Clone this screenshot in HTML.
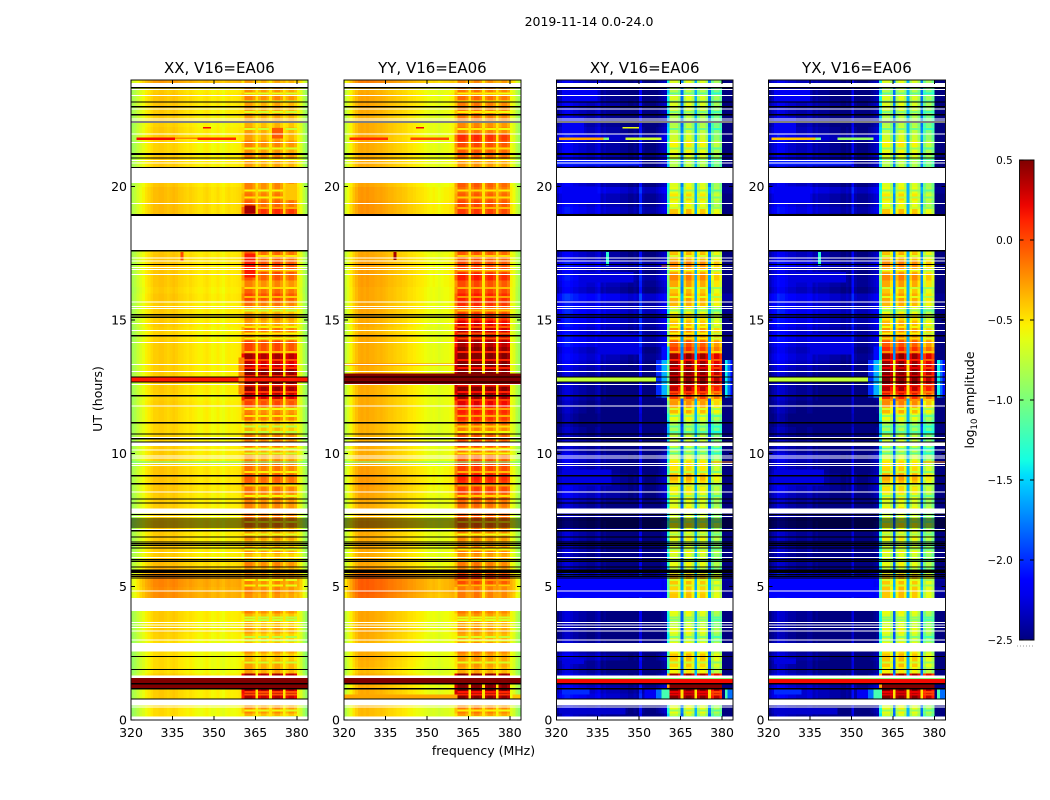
<!DOCTYPE html>
<html lang="en">
<head>
<meta charset="utf-8">
<title>2019-11-14 0.0-24.0</title>
<style>
html,body{margin:0;padding:0;background:#fff;width:1050px;height:800px;overflow:hidden}
svg{display:block}
text{font-family:"DejaVu Sans","Liberation Sans",sans-serif;fill:#000}
</style>
</head>
<body>
<svg id="figure" xmlns="http://www.w3.org/2000/svg" width="1050" height="800" viewBox="0 0 1050 800">
  <defs>
    <linearGradient id="jetGradient" x1="0" y1="1" x2="0" y2="0"></linearGradient>
  </defs>
  <text x="589" y="26" font-size="12.5" text-anchor="middle">2019-11-14 0.0-24.0</text>
  <text x="483.5" y="755" font-size="12.5" text-anchor="middle">frequency (MHz)</text>
  <text x="102" y="399" font-size="12.5" text-anchor="middle" transform="rotate(-90 102 399)">UT (hours)</text>
  <text x="974" y="400" font-size="12.5" text-anchor="middle" transform="rotate(-90 974 400)">log<tspan font-size="8.5" dy="3">10</tspan><tspan dy="-3"> amplitude</tspan></text>
  <g id="panels"></g>
  <g id="colorbar"></g>
</svg>
<script>
// ---------- axis categories and tick labels ----------
const panelTitles = ["XX, V16=EA06", "YY, V16=EA06", "XY, V16=EA06", "YX, V16=EA06"];
const freqTicks = [320, 335, 350, 365, 380];
const timeTicks = [0, 5, 10, 15, 20];
const colorTicks = [-2.5, -2.0, -1.5, -1.0, -0.5, 0.0, 0.5];
const colorTickLabels = ["\u22122.5", "\u22122.0", "\u22121.5", "\u22121.0", "\u22120.5", "0.0", "0.5"];

// zone of each 1 MHz channel from 320 MHz: 0 continuum, 1-4 sub-band, 5 gap, 6 narrow gap, 8 band edge
const channelZone = [
0,0,0,0,0,0,0,0,0,0, 0,0,0,0,0,0,0,0,0,0,
0,0,0,0,0,0,0,0,0,0, 0,0,0,0,0,0,0,0,0,0,
8,1,1,1,1,5,2,2,2,2, 6,3,3,3,3,5,4,4,4,4,
0,0,0,0];
// 1 on the outer channels of each sub-band, 0 on the inner ones
const bandRim = [
0,0,0,0,0,0,0,0,0,0, 0,0,0,0,0,0,0,0,0,0,
0,0,0,0,0,0,0,0,0,0, 0,0,0,0,0,0,0,0,0,0,
0,0,0,0,1,0,1,0,0,1, 0,1,0,0,1,0,1,0,0,1,
0,0,0,0];

// spectral shape of the continuum, log10 offset per channel
const profileXX = [
-.35,-.3,-.22,-.15,-.1,-.04,0,.04,.08,.08, .1,.1,.08,.06,.08,.1,.08,.05,.04,.02,
0,.02,0,-.02,-.04,-.04,-.02,0,-.03,-.06, -.05,-.02,-.06,-.08,-.04,-.02,-.04,-.03,-.02,0,
0,0,0,0,0,0,0,0,0,0, 0,0,0,0,0,0,0,0,0,0, -.05,-.15,-.3,-.4];
const profileYY = [
-.25,-.15,-.05,.05,.12,.18,.2,.18,.2,.18, .18,.16,.15,.16,.14,.12,.1,.1,.08,.06,
.06,.04,.03,0,0,-.02,-.04,-.05,-.06,-.08, -.1,-.12,-.1,-.12,-.15,-.12,-.1,-.1,-.08,-.06,
0,0,0,0,0,0,0,0,0,0, 0,0,0,0,0,0,0,0,0,0, -.08,-.15,-.3,-.38];
const profileXY = [
0,.1,.2,.25,.25,.2,.15,.15,.1,.1, .1,.05,.05,.05,.1,.15,0,.05,0,0,
0,0,0,-.05,-.05,-.05,-.1,-.1,-.05,-.1, .3,-.05,-.1,-.1,-.1,-.1,-.05,0,.05,.1,
0,0,0,0,0,0,0,0,0,0, 0,0,0,0,0,0,0,0,0,0, -.2,-.2,-.2,-.2];
const profileYX = [
0,.1,.15,.25,.2,.2,.15,.1,.1,.1, .05,.05,.05,.05,.1,.1,0,.05,0,0,
0,0,-.05,-.05,-.05,-.05,-.1,-.1,-.05,-.1, .25,-.05,-.1,-.1,-.1,-.1,-.05,0,.05,.1,
0,0,0,0,0,0,0,0,0,0, 0,0,0,0,0,0,0,0,0,0, -.2,-.2,-.2,-.2];

// continuum level per quarter hour, 0h upward (four values per hour)
const contXX = [
-.55,-.55,-.55,-.5, -.5,-.5,-.5,-.55, -.55,-.55,-.55,-.55, -.52,-.5,-.52,-.5,
-.5,-.5,-.3,-.3, -.28,-.28,-.42,-.45, -.5,-.5,-.5,-.5, -.5,-.5,-.52,-.5,
-.5,-.5,-.48,-.48, -.48,-.48,-.5,-.5, -.5,-.5,-.52,-.52, -.52,-.52,-.52,-.5,
-.52,-.5,-.5,-.5, -.5,-.5,-.5,-.5, -.5,-.52,-.52,-.5, -.5,-.5,-.5,-.48,
-.5,-.48,-.48,-.48, -.48,-.48,-.5,-.5, -.5,-.5,-.45,-.45, -.45,-.45,-.45,-.45,
-.48,-.5,-.5,-.5, -.5,-.52,-.52,-.5, -.5,-.52,-.5,-.5, -.48,-.48,-.5,-.35];
const contYY = [
-.55,-.55,-.55,-.5, -.5,-.5,-.5,-.55, -.52,-.5,-.5,-.52, -.5,-.48,-.5,-.48,
-.48,-.48,-.28,-.25, -.25,-.25,-.45,-.48, -.5,-.5,-.5,-.5, -.5,-.48,-.52,-.5,
-.5,-.48,-.46,-.45, -.45,-.46,-.48,-.5, -.5,-.5,-.52,-.52, -.52,-.5,-.5,-.5,
-.5,-.5,-.5,-.5, -.5,-.5,-.5,-.5, -.5,-.5,-.52,-.5, -.5,-.48,-.48,-.48,
-.48,-.46,-.46,-.46, -.46,-.48,-.5,-.5, -.5,-.5,-.42,-.42, -.42,-.42,-.44,-.44,
-.48,-.5,-.5,-.5, -.5,-.5,-.5,-.5, -.5,-.5,-.52,-.5, -.48,-.48,-.5,-.35];
const contXY = [
-2.5,-2.4,-2.5,-2.3, -2.35,-2.4,-2.4,-2.5, -2.5,-2.4,-2.5,-2.5, -2.55,-2.55,-2.55,-2.5,
-2.5,-2.5,-2.25,-2.25, -2.25,-2.2,-2.5,-2.5, -2.55,-2.5,-2.55,-2.5, -2.5,-2.5,-2.55,-2.5,
-2.5,-2.4,-2.4,-2.4, -2.4,-2.45,-2.45,-2.4, -2.5,-2.5,-2.55,-2.55, -2.6,-2.6,-2.55,-2.55,
-2.5,-2.5,-2.5,-2.5, -2.45,-2.4,-2.35,-2.4, -2.3,-2.3,-2.35,-2.3, -2.3,-2.25,-2.3,-2.2,
-2.4,-2.35,-2.3,-2.4, -2.3,-2.4,-2.4,-2.4, -2.4,-2.4,-2.4,-2.4, -2.3,-2.35,-2.35,-2.25,
-2.4,-2.4,-2.3,-2.4, -2.4,-2.4,-2.4,-2.3, -2.4,-2.45,-2.45,-2.45, -2.4,-2.45,-2.45,-2.4];
const contYX = [
-2.5,-2.45,-2.5,-2.35, -2.35,-2.4,-2.4,-2.5, -2.5,-2.45,-2.5,-2.5, -2.55,-2.55,-2.55,-2.5,
-2.5,-2.5,-2.25,-2.2, -2.25,-2.2,-2.5,-2.5, -2.55,-2.5,-2.55,-2.5, -2.5,-2.5,-2.55,-2.5,
-2.5,-2.45,-2.4,-2.4, -2.4,-2.45,-2.45,-2.4, -2.5,-2.5,-2.55,-2.55, -2.6,-2.6,-2.55,-2.55,
-2.5,-2.5,-2.5,-2.5, -2.45,-2.4,-2.35,-2.4, -2.35,-2.3,-2.35,-2.3, -2.3,-2.25,-2.3,-2.25,
-2.4,-2.35,-2.35,-2.4, -2.3,-2.4,-2.4,-2.4, -2.4,-2.4,-2.4,-2.4, -2.3,-2.35,-2.35,-2.25,
-2.4,-2.4,-2.3,-2.4, -2.4,-2.4,-2.4,-2.3, -2.4,-2.45,-2.45,-2.45, -2.4,-2.45,-2.45,-2.4];

// sub-band (361-380 MHz) level per quarter hour, 0h upward
const bandXX = [
-.25,-.12,-.2,.45, .5,.5,.5,-.2, -.2,-.28,-.15,-.3, -.3,-.2,-.28,-.25,
-.1,-.25,-.15,-.1, -.1,-.1,-.2,-.1, -.3,-.15,-.3,-.15, -.2,-.05,-.05,-.1,
-.1,-.1,-.05,0, .02,-.05,-.05,-.15, -.2,-.05,-.1,-.25, -.3,-.05,-.1,.1,
.4,.55,.6,.6, .6,.4,.5,.1, .1,-.1,-.05,-.2, -.15,-.25,-.05,.1,
0,-.1,.05,.1, .1,0,0,0, 0,0,.2,.15, .2,0,-.05,-.1,
-.1,-.1,-.2,-.2, -.1,-.15,-.1,-.2, -.2,-.25,-.2,-.2, -.2,-.1,-.15,-.2];
const bandYY = [
-.2,-.1,-.2,.55, .6,.6,.55,-.25, -.2,-.2,-.1,-.2, -.25,-.2,-.25,-.2,
-.1,-.25,-.1,-.1, .05,.2,-.15,-.1, -.2,-.1,-.2,-.15, -.1,0,0,-.1,
-.05,0,.1,.15, .2,.1,.1,0, -.1,.05,0,-.1, 0,.15,.2,.3,
.5,.6,.6,.6, .6,.6,.6,.55, .45,.45,.4,.3, .15,.05,.15,.2,
.1,.05,.2,.1, .05,0,0,0, 0,0,.1,.1, .1,.05,0,-.05,
0,-.05,-.2,-.2, -.05,0,.05,.15, -.1,-.15,-.1,-.1, -.1,-.05,-.1,-.15];
const bandXY = [
-.8,-.65,-.7,.5, .5,.4,.4,-.6, -.5,-.45,-.6,-.65, -.75,-.65,-.8,-.7,
-.65,-.75,-.45,-.5, -.45,-.4,-.8,-.65, -.75,-.6,-.8,-.6, -.7,-.6,-.75,-.6,
-.7,-.65,-.6,-.5, -.4,-.55,-.55,-.7, -.85,-.75,-.8,-.9, -.85,-.65,-.4,-.3,
0,.3,.45,.5, .5,.4,.4,0, -.1,-.25,-.3,-.45, -.55,-.65,-.4,-.35,
-.45,-.35,-.25,-.35, -.25,-.4,-.45,-.8, -.8,-.8,-.45,-.35, -.45,-.65,-.55,-.65,
-.7,-.7,-.85,-.85, -.7,-.65,-.6,-.75, -.8,-.85,-.85,-.75, -.7,-.7,-.85,-.7];
const bandYX = [
-.75,-.65,-.7,.5, .5,.4,.4,-.6, -.45,-.45,-.55,-.65, -.75,-.65,-.75,-.7,
-.65,-.75,-.45,-.45, -.45,-.4,-.8,-.65, -.75,-.6,-.8,-.6, -.7,-.6,-.75,-.6,
-.7,-.65,-.55,-.45, -.35,-.5,-.55,-.7, -.85,-.75,-.8,-.9, -.85,-.65,-.4,-.25,
.05,.3,.45,.5, .5,.4,.4,.05, -.1,-.2,-.3,-.4, -.55,-.65,-.4,-.35,
-.45,-.35,-.25,-.35, -.25,-.4,-.45,-.8, -.8,-.8,-.45,-.35, -.45,-.65,-.55,-.65,
-.7,-.7,-.85,-.85, -.7,-.65,-.6,-.75, -.8,-.85,-.85,-.75, -.7,-.7,-.85,-.7];

// per-panel sub-band offsets, gap offset above continuum, narrow-gap level, edge and rim drops
const bandOffsetsXX = [-.07, -.12, -.08, -.14];
const bandOffsetsYY = [-.05, -.03, -.07, -.1];
const bandOffsetsXY = [.05, .1, .05, -.15];
const bandOffsetsYX = [.05, .1, .05, -.15];
const gapOffsets = [0, 0, .65, .65];
const narrowGapLevels = [-.5, -.5, -1.6, -1.6];
const edgeDrops = [-.3, -.3, -.7, -.7];
const rimDrops = [-.1, -.1, -.2, -.2];
const stripeDrops = [-.38, -.38, -.32, -.32];

// hours where the sub-bands show a paler horizontal stripe
const bandStripeHours = [
.12,.35,.95,1.05,2.15,2.98,3.12,3.75,3.85,5.05,5.25,6,6.4,6.95,7.45,8.4,8.8,9.3,10,10.17,10.8,11,11.4,11.67,12,12.3,12.55,12.9,13.2,13.5,
13.8,14.3,14.5,14.73,15.36,15.86,16.2,16.86,17.4,19.2,19.6,19.86,21,21.43,22.17,22.8,23.2,23.5];

// localised features: [startHour, endHour, startMHz, endMHz, log10 amplitude]
const featuresXX = [
[1.17,1.58,320,384,.5],[12.67,12.86,320,384,.15],[21.75,21.85,322,336,.2],[21.75,21.85,344,358,.1],
[21.78,21.85,336,344,-.2],[22.19,22.24,346,349,.2],[9.66,9.7,320,384,-1.1],[17.2,17.55,338,339,0],
[16.6,17.5,361,365,.15],[19,19.3,361,365,.4],[19.5,20.1,376,380,-.4],[21.8,22.2,371,375,-.05],
[12.2,13.6,359,361,-.2]];
const featuresYY = [
[1.38,1.6,320,384,.5],[12.6,13,320,384,.5],[21.75,21.85,322,336,.1],[21.75,21.85,344,358,0],
[22.19,22.24,346,349,.2],[9.66,9.7,320,384,-1.1],[17.25,17.55,338,339,.4],
[.8,.95,320,361,-.3],[13.3,13.36,320,360,-.2],[.8,.95,381,384,-.4]];
const featuresXY = [
[1.53,1.58,320,384,-1],[1.39,1.53,320,384,.2],[1.17,1.39,361,380,.5],[12.7,12.85,320,358,-.75],
[12.7,12.85,358,361,-.35],[12.7,12.85,381,384,-.8],[21.75,21.85,321,337,-.3],[21.75,21.85,337,339,-1],
[21.75,21.85,345,358,-.7],[22.19,22.24,344,350,-.6],[17.05,17.55,338,339,-1.3],[17,17.05,358,360,-.1],
[12.1,13.5,356,358,-2],[12.1,13.5,358,360,-1.6],[12.1,13.5,360,361,-1.1],[12.1,13.5,381,382,-1.4],[12.1,13.5,382,383,-1.8],[12.1,13.5,383,384,-2.1],
[13.5,14,358,360,-2.1],[13.5,14,360,361,-1.5],
[.8,1.17,352,356,-2.2],[.8,1.17,356,358,-1.8],[.8,1.17,358,361,-1.2],[.8,1.17,381,382,-1.2],[.8,1.17,382,384,-1.8],
[12.05,13.5,365,366,-.6],[12.05,13.5,370,371,-.5],[12.05,13.5,375,376,-.6],
[.8,1.17,365,366,-.5],[.8,1.17,370,371,-.5],[.8,1.17,375,376,-.5],[9.66,9.7,376,384,-.2]];
const featuresYX = [
[1.53,1.58,320,384,-1],[1.39,1.53,320,384,.2],[1.17,1.39,361,380,.5],[12.7,12.85,320,358,-.75],
[12.7,12.85,358,361,-.35],[12.7,12.85,381,384,-.8],[21.75,21.85,321,337,-.4],[21.75,21.85,337,339,-1],
[21.75,21.85,345,358,-.9],[17.05,17.55,338,339,-1.3],
[12.1,13.5,356,358,-2],[12.1,13.5,358,360,-1.6],[12.1,13.5,360,361,-1.1],[12.1,13.5,381,382,-1.4],[12.1,13.5,382,383,-1.8],[12.1,13.5,383,384,-2.1],
[13.5,14,358,360,-2.1],[13.5,14,360,361,-1.5],
[.8,1.17,352,356,-2.2],[.8,1.17,356,358,-1.8],[.8,1.17,358,361,-1.2],[.8,1.17,381,382,-1.2],[.8,1.17,382,384,-1.8],
[12.05,13.5,365,366,-.6],[12.05,13.5,370,371,-.5],[12.05,13.5,375,376,-.6],
[.8,1.17,365,366,-.5],[.8,1.17,370,371,-.5],[.8,1.17,375,376,-.5],[9.66,9.7,376,384,-.2]];
// brighter continuum patches in the cross hands, same format
const crossPatches = [
[19.4,20,322,335,-2.2],[16.4,16.8,328,348,-2.25],[13.7,14.5,335,350,-2.25],[8.8,9.4,322,340,-2.25],[4.6,5.4,320,358,-2.15],
[2.1,2.3,322,330,-2.25],[.95,1.15,322,332,-2],[22,22.6,322,330,-2.2],[20.8,21,320,350,-2.05],[23.2,23.7,322,335,-2.2],[.2,.45,322,345,-2.3]];

// flagged time ranges, hours: blank gaps and thin blank rows
const blankSpans = [
[0,.14],[.55,.78],[1.58,1.66],[2.61,2.89],[4.08,4.58],[7.74,7.94],[10.27,10.4],[17.6,18.9],[20.135,20.71],[23.72,23.885]];
const blankRows = [
.48,2.58,3,3.33,3.46,3.56,3.65,4.84,6.09,6.28,7.14,7.64,8.55,9.55,9.61,9.82,9.9,10.13,10.6,11.78,12.585,13.06,13.33,
14.15,14.6,14.87,15.44,15.5,15.67,16.7,16.9,16.96,17.22,17.32,19.36,20.88,20.99,21.66,21.98,22.4,22.47,22.53,22.92,23.41,23.65];
// zero-valued time rows, hours
const zeroRows = [
.79,1.17,1.36,1.89,2.38,5.33,5.39,5.46,5.94,6.01,5.74,6.45,6.54,6.61,6.67,6.86,7.1,7.24,7.31,7.39,7.46,7.54,7.71,8.14,8.29,
8.86,9.16,10.42,10.55,10.73,11.15,12.16,12.67,12.86,14.41,15.1,15.2,17.08,17.6,20.72,21.08,22.42,22.7,23,23.17,23.71];
const zeroSpans = [[5.51,5.64],[18.9,18.98],[21.19,21.27]];

const contLevels = [contXX, contYY, contXY, contYX];
const bandLevels = [bandXX, bandYY, bandXY, bandYX];
const profiles = [profileXX, profileYY, profileXY, profileYX];
const bandOffsets = [bandOffsetsXX, bandOffsetsYY, bandOffsetsXY, bandOffsetsYX];
const featureLists = [featuresXX, featuresYY, crossPatches.concat(featuresXY), crossPatches.concat(featuresYX)];

// ---------- scales ----------
const NS = "http://www.w3.org/2000/svg";
const panelLefts = [131, 344, 556.3, 768.5];
const panelWidth = 176.8, panelTop = 80, panelBottom = 720;
const freqMin = 320, freqMax = 384, timeMin = 0, timeMax = 24;
function xScale(left, f) { return left + (f - freqMin) / (freqMax - freqMin) * panelWidth; }
function yScale(t) { return panelBottom - (t - timeMin) / (timeMax - timeMin) * (panelBottom - panelTop); }
const colorMin = -2.5, colorMax = 0.5;
function ramp(u, pts) {
  for (let i = 1; i < pts.length; i++) {
    if (u <= pts[i][0]) {
      const a = pts[i - 1], b = pts[i];
      return a[1] + (b[1] - a[1]) * (u - a[0]) / (b[0] - a[0]);
    }
  }
  return pts[pts.length - 1][1];
}
function jetFraction(u) {
  u = Math.max(0, Math.min(1, u));
  const r = ramp(u, [[0,0],[.35,0],[.66,1],[.89,1],[1,.5]]);
  const g = ramp(u, [[0,0],[.125,0],[.375,1],[.64,1],[.91,0],[1,0]]);
  const b = ramp(u, [[0,.5],[.11,1],[.34,1],[.65,0],[1,0]]);
  return "rgb(" + Math.round(r * 255) + "," + Math.round(g * 255) + "," + Math.round(b * 255) + ")";
}
function jet(v) { return jetFraction((v - colorMin) / (colorMax - colorMin)); }

function cellValue(p, row, ch) {
  const zone = channelZone[ch];
  const cont = contLevels[p][row] + profiles[p][ch];
  if (zone === 0) return cont;
  if (zone >= 1 && zone <= 4) return bandLevels[p][row] + bandOffsets[p][zone - 1] + bandRim[ch] * rimDrops[p];
  if (zone === 5) return contLevels[p][row] + gapOffsets[p];
  if (zone === 6) return narrowGapLevels[p];
  return bandLevels[p][row] + edgeDrops[p];
}
function makeRect(parent, x, y, w, h, fill) {
  const r = document.createElementNS(NS, "rect");
  r.setAttribute("x", x);
  r.setAttribute("y", y);
  r.setAttribute("width", w);
  r.setAttribute("height", h);
  r.setAttribute("fill", fill);
  parent.appendChild(r);
  return r;
}
function makeLine(parent, x1, y1, x2, y2, color, width) {
  const l = document.createElementNS(NS, "line");
  l.setAttribute("x1", x1);
  l.setAttribute("y1", y1);
  l.setAttribute("x2", x2);
  l.setAttribute("y2", y2);
  l.setAttribute("stroke", color);
  l.setAttribute("stroke-width", width);
  l.setAttribute("shape-rendering", "crispEdges");
  parent.appendChild(l);
  return l;
}
function makeText(parent, x, y, str, size, anchor) {
  const t = document.createElementNS(NS, "text");
  t.setAttribute("x", x);
  t.setAttribute("y", y);
  t.setAttribute("font-size", size);
  t.setAttribute("text-anchor", anchor);
  t.textContent = str;
  parent.appendChild(t);
  return t;
}

// ---------- panels ----------
const panelsRoot = document.getElementById("panels");
panelTitles.forEach(function (title, p) {
  const left = panelLefts[p];
  const g = document.createElementNS(NS, "g");
  
  
  g.setAttribute("shape-rendering", "crispEdges");
  panelsRoot.appendChild(g);

  const rows = contLevels[p].length;
  const rowHours = (timeMax - timeMin) / rows;
  for (let row = 0; row < rows; row++) {
    const yTop = yScale(timeMin + (row + 1) * rowHours);
    const yBot = yScale(timeMin + row * rowHours);
    for (let ch = 0; ch < channelZone.length; ch++) {
      const x0 = xScale(left, freqMin + ch);
      const x1 = xScale(left, freqMin + ch + 1);
      const cell = makeRect(g, x0, yTop, x1 - x0 + .3, yBot - yTop + .3, jet(cellValue(p, row, ch)));
      
      
    }
  }
  bandStripeHours.forEach(function (t) {
    const row = Math.floor((t - timeMin) / rowHours);
    const level = bandLevels[p][row] + stripeDrops[p];
    [[361, 365], [366, 370], [371, 375], [376, 380]].forEach(function (b, k) {
      const x0 = xScale(left, b[0]);
      const x1 = xScale(left, b[1]);
      const s = makeRect(g, x0, yScale(t) - 1, x1 - x0, 2, jet(level + bandOffsets[p][k]));
      
      
    });
  });
  featureLists[p].forEach(function (f) {
    const x0 = xScale(left, f[2]);
    const x1 = xScale(left, f[3]);
    const m = makeRect(g, x0, yScale(f[1]), x1 - x0, yScale(f[0]) - yScale(f[1]), jet(f[4]));
    
    
  });
  blankSpans.forEach(function (s) {
    const m = makeRect(g, left, yScale(s[1]), panelWidth, yScale(s[0]) - yScale(s[1]), "#fff");
    
    
  });
  blankRows.forEach(function (t) {
    const m = makeRect(g, left, yScale(t) - .5, panelWidth, 1, "#fff");
    
    
  });
  zeroSpans.forEach(function (s) {
    const m = makeRect(g, left, yScale(s[1]), panelWidth, yScale(s[0]) - yScale(s[1]), "#000");
    
    
  });
  zeroRows.forEach(function (t) {
    const m = makeRect(g, left, yScale(t) - .6, panelWidth, 1.2, "#000");
    
    
  });

  const frame = makeRect(g, left, panelTop, panelWidth, panelBottom - panelTop, "none");
  frame.setAttribute("stroke", "#111");
  frame.setAttribute("stroke-width", "1");
  
  

  freqTicks.forEach(function (f) {
    const x = xScale(left, f);
    const a = makeLine(g, x, panelBottom, x, panelBottom - 4, "#000", 1);
    
    
    const b = makeLine(g, x, panelTop, x, panelTop + 4, "#000", 1);
    
    
    const label = makeText(panelsRoot, x, panelBottom + 17, String(f), 12.5, "middle");
    
    
  });
  timeTicks.forEach(function (t) {
    const y = yScale(t);
    const a = makeLine(g, left, y, left + 4, y, "#000", 1);
    
    
    const b = makeLine(g, left + panelWidth, y, left + panelWidth - 4, y, "#000", 1);
    
    
    const label = makeText(panelsRoot, left - 4, y + 4.5, String(t), 12.5, "end");
    
    
  });
  const titleEl = makeText(panelsRoot, left + panelWidth / 2, 73, title, 15, "middle");
  
  
});

// ---------- colorbar ----------
const barRoot = document.getElementById("colorbar");
const barLeft = 1019.5, barWidth = 14.5, barTop = 160, barBottom = 640;
function barY(v) { return barBottom - (v - colorMin) / (colorMax - colorMin) * (barBottom - barTop); }
const gradient = document.getElementById("jetGradient");
for (let i = 0; i <= 32; i++) {
  const stop = document.createElementNS(NS, "stop");
  stop.setAttribute("offset", (i / 32 * 100) + "%");
  stop.setAttribute("stop-color", jetFraction(i / 32));
  gradient.appendChild(stop);
}
const barFill = makeRect(barRoot, barLeft, barTop, barWidth, barBottom - barTop, "url(#jetGradient)");


const barFrame = makeRect(barRoot, barLeft, barTop, barWidth, barBottom - barTop, "none");
barFrame.setAttribute("stroke", "#111");
barFrame.setAttribute("stroke-width", "1");
barFrame.setAttribute("shape-rendering", "crispEdges");


colorTicks.forEach(function (v, i) {
  const y = barY(v);
  const a = makeLine(barRoot, barLeft, y, barLeft + 4, y, "#000", 1);
  
  
  const b = makeLine(barRoot, barLeft + barWidth, y, barLeft + barWidth - 4, y, "#000", 1);
  
  
  const label = makeText(barRoot, 1012.7, y + 4, colorTickLabels[i], 10.4, "end");
  
  
});
const barDots = makeLine(barRoot, 1017, 646, 1034, 646, "#999", 1);
barDots.setAttribute("stroke-dasharray", "1 2");


</script>
</body>
</html>
